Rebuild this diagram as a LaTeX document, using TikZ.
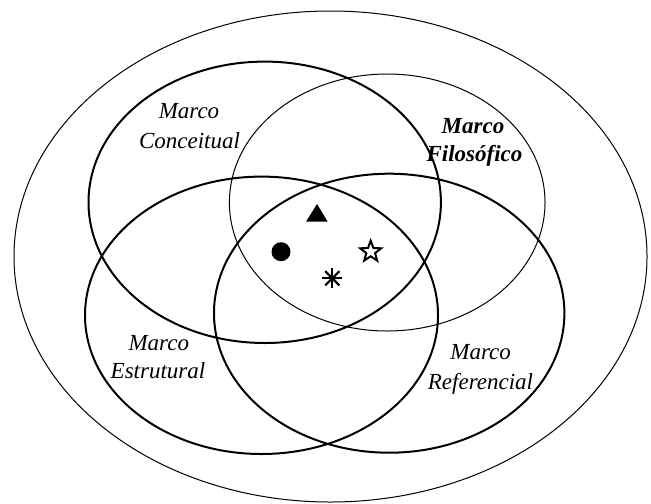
\documentclass[tikz,border=0pt]{standalone}
\usepackage{fontspec}
\setmainfont{Liberation Serif}
\usetikzlibrary{shapes.geometric}
\tikzset{
  frame/.style={line width=1pt},
  thinframe/.style={line width=0.5pt},
  lbl/.style={anchor=base,inner sep=0pt,font=\fontsize{11.5}{14}\selectfont\itshape},
}

\begin{document}
\begin{tikzpicture}[x=0.5pt,y=-0.5pt]
    \useasboundingbox (0,0) rectangle (651,503);
    % outer frame
    \draw[thinframe] (330.5,256.5) ellipse [x radius=316.5, y radius=245.5];
    % the four frames
    \draw[frame] (264.7,202.3) ellipse [x radius=176.2, y radius=140.7];
    \draw[thinframe] (387.2,202.5) ellipse [x radius=157.8, y radius=128.5];
    \draw[frame] (261.5,315.3) ellipse [x radius=176.5, y radius=138.7];
    \draw[frame] (389.2,313.2) ellipse [x radius=175.2, y radius=139.5];
    % labels
    \node[lbl] (concA) at (189,118) {Marco};
    \node[lbl] (concB) at (189.5,148) {Conceitual};
    \node[lbl,font=\fontsize{11.5}{14}\selectfont\bfseries\itshape] (filoA) at (473,133) {Marco};
    \node[lbl,font=\fontsize{11.5}{14}\selectfont\bfseries\itshape] (filoB) at (474.5,161.7) {Filosófico};
    \node[lbl] (estrA) at (158.8,350) {Marco};
    \node[lbl] (estrB) at (158,378.3) {Estrutural};
    \node[lbl] (refA) at (480.7,359.3) {Marco};
    \node[lbl] (refB) at (480.5,389) {Referencial};
    % symbols in the middle
    \fill (306,221.7) -- (327.7,221.7) -- (317,204) -- cycle;
    \fill (281,251.7) circle [radius=9.5];
    \node[star,star points=5,star point ratio=2.4,draw,line width=1pt,fill=white,
          minimum size=11pt,inner sep=0pt] (star) at (370.7,251.7) {};
    \foreach \a in {0,45,90,135}
        \draw[line width=1.1pt] (332.3,278.3) ++(\a:10) -- ++(\a+180:20);
\end{tikzpicture}
\end{document}
